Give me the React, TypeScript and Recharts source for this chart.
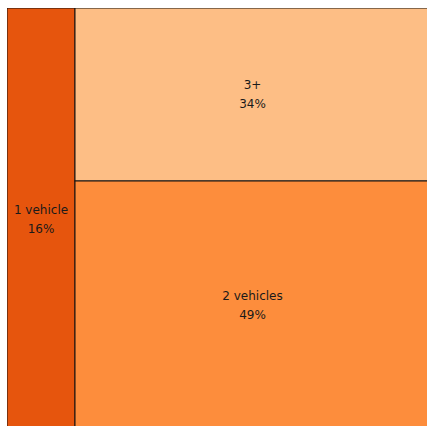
import { Treemap } from 'recharts'

const categories = ['1 vehicle', '3+', '2 vehicles']
const shares = [16, 34, 49]
const colors = ['#E6550D', '#FDBE85', '#FD8D3C']

const data = categories.map((name, i) => ({ name, value: shares[i], color: colors[i] }))

// eslint-disable-next-line @typescript-eslint/no-explicit-any
function Cell(props: any) {
  const { x, y, width, height, depth, name, value, color } = props
  if (depth === 0 || !name) return null
  const cx = x + width / 2
  const cy = y + height / 2
  return (
    <g>
      <rect x={x} y={y} width={width} height={height} fill={color} stroke="#111" strokeWidth={1} />
      <text
        x={cx}
        y={cy - 9.5}
        textAnchor="middle"
        dominantBaseline="central"
        fontFamily="DejaVu Sans"
        fontSize={12}
        fill="#1a1a1a"
      >
        {name}
      </text>
      <text
        x={cx}
        y={cy + 9.5}
        textAnchor="middle"
        dominantBaseline="central"
        fontFamily="DejaVu Sans"
        fontSize={12}
        fill="#1a1a1a"
      >
        {value}%
      </text>
    </g>
  )
}

export default function App() {
  return (
    <div style={{ position: 'fixed', left: 7, top: 8, width: 420, height: 418, overflow: 'hidden' }}>
      <Treemap
        width={423}
        height={422}
        data={data}
        dataKey="value"
        nameKey="name"
        aspectRatio={0.4}
        isAnimationActive={false}
        content={<Cell />}
      />
    </div>
  )
}
